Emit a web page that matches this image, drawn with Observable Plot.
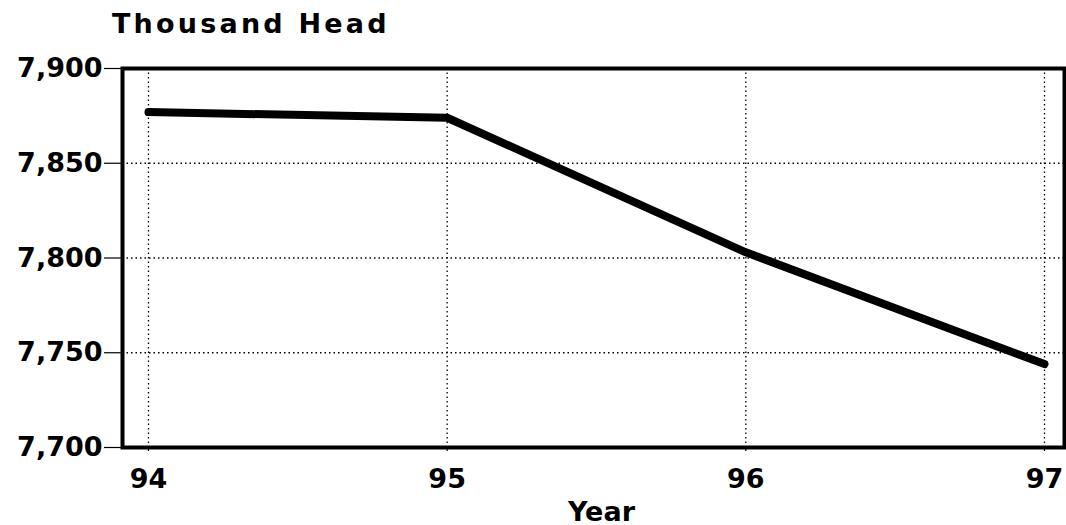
<!DOCTYPE html>
<html>
<head>
<meta charset="utf-8">
<script src="https://cdn.jsdelivr.net/npm/d3@7"></script>
<script src="https://cdn.jsdelivr.net/npm/@observablehq/plot@0.6"></script>
<style>
  html, body { margin: 0; padding: 0; background: #fff; }
  #wrap { position: relative; width: 1066px; height: 525px; overflow: hidden; }
  #title { position: absolute; left: 112px; top: 7px; font-family: "DejaVu Sans", sans-serif; font-weight: bold; font-size: 27px; letter-spacing: 3.2px; color: #000; line-height: 34px; }
  #chart { position: absolute; left: 0; top: 50px; }
</style>
</head>
<body>
<div id="wrap">
  <div id="title">Thousand Head</div>
  <div id="chart"></div>
</div>
<script>
const years = [94, 95, 96, 97];
const values = [7877, 7874, 7803, 7744];
const yTicks = [7700, 7750, 7800, 7850, 7900];
const xTicks = [94, 95, 96, 97];
const xLabel = "Year";

const data = years.map((y, i) => ({year: y, value: values[i]}));

const chart = Plot.plot({
  width: 1066,
  height: 475,
  marginLeft: 122,
  marginRight: 2,
  marginTop: 18,
  marginBottom: 78,
  style: {fontFamily: "DejaVu Sans, sans-serif", fontWeight: "bold", fontSize: "27px", color: "#000", background: "#fff", overflow: "visible"},
  x: {domain: [93.913, 97.067]},
  y: {domain: [7700, 7900]},
  marks: [
    Plot.gridX(xTicks, {stroke: "#000", strokeOpacity: 1, strokeWidth: 1.3, strokeDasharray: "1.5,3"}),
    Plot.gridY(yTicks, {stroke: "#000", strokeOpacity: 1, strokeWidth: 1.3, strokeDasharray: "1.5,3"}),
    Plot.axisY(yTicks, {tickSize: 18, tickPadding: 2, tickFormat: d3.format(","), label: null, strokeWidth: 1.2, fontSize: 27, style: {letterSpacing: "2px"}}),
    Plot.axisX(xTicks, {tickSize: 4, tickPadding: 17, tickFormat: d => String(d), label: null, strokeWidth: 1.2, fontSize: 27, style: {letterSpacing: "2px"}}),
    Plot.frame({stroke: "#000", strokeWidth: 4}),
    Plot.line(data, {x: "year", y: "value", stroke: "#000", strokeWidth: 8, strokeLinejoin: "round", strokeLinecap: "round"}),
    Plot.text([xLabel], {frameAnchor: "bottom", dx: 8, dy: 73, text: d => d, fontSize: 27, fontWeight: "bold", fill: "#000", style: {letterSpacing: "3px"}})
  ]
});
document.getElementById("chart").appendChild(chart);
</script>
</body>
</html>
